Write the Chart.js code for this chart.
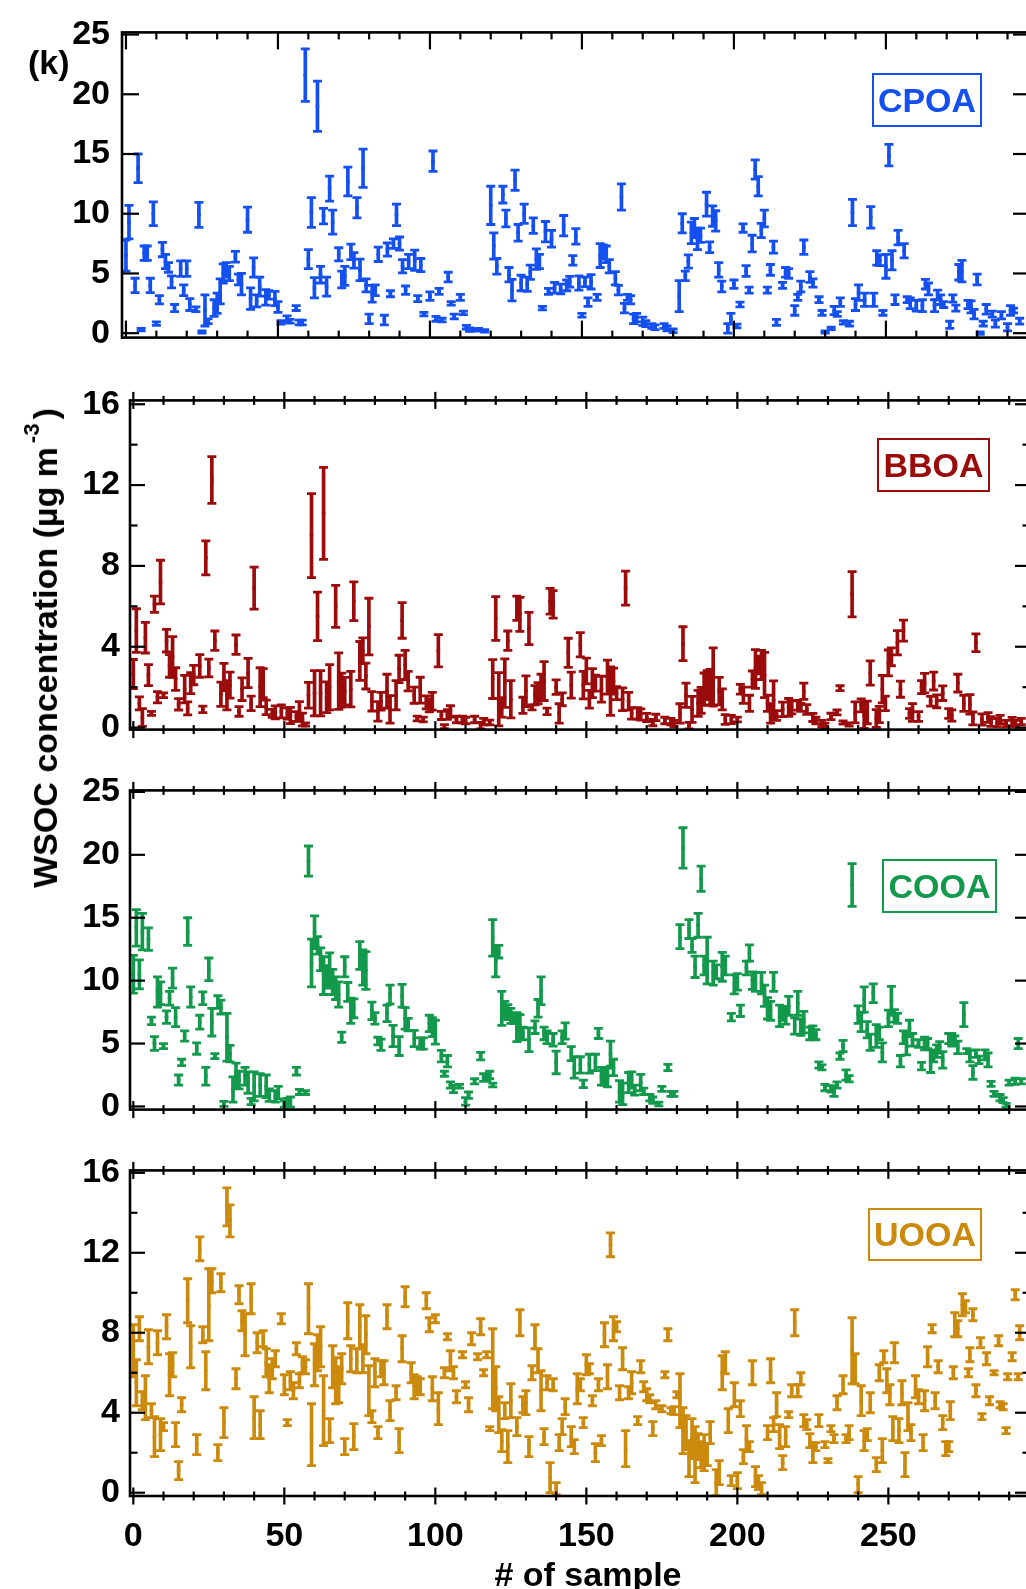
<!DOCTYPE html>
<html>
<head>
<meta charset="utf-8">
<script src="https://cdn.jsdelivr.net/npm/chart.js@4.4.1/dist/chart.umd.min.js"></script>
<style>
  html, body { margin: 0; padding: 0; background: #fff; overflow: hidden; }
  #wrap { position: relative; width: 1045px; height: 1589px; }
  #wrap canvas { position: absolute; left: 0; }
  .txt { position: absolute; font-family: "Liberation Sans", Arial, sans-serif; font-weight: bold; color: #000; white-space: nowrap; line-height: 1; }
  .box { position: absolute; box-sizing: border-box; border: 2px solid; display: flex; align-items: center; justify-content: center;
         font-family: "Liberation Sans", Arial, sans-serif; font-weight: bold; font-size: 34px; }
</style>
</head>
<body>
<div id="wrap">
  <canvas id="c1" width="1045" height="370" style="top:0px"></canvas>
  <canvas id="c2" width="1045" height="390" style="top:370px"></canvas>
  <canvas id="c3" width="1045" height="380" style="top:760px"></canvas>
  <canvas id="c4" width="1045" height="449" style="top:1140px"></canvas>

  <div class="txt" style="left:28px; top:45px; font-size:34px;">(k)</div>
  <div class="txt" style="left:45px; top:648px; font-size:34px; transform: translate(-50%, -50%) rotate(-90deg);">WSOC concentration (µg m<span style="font-size:22px; position:relative; top:-18px; margin:0 4px;">-3</span>)</div>
  <div class="txt" style="left:588px; top:1557px; font-size:34px; transform: translateX(-50%);"># of sample</div>

  <div class="box" style="left:872px; top:73px; width:110px; height:54px; color:#1450f0; border-color:#1450f0;">CPOA</div>
  <div class="box" style="left:877px; top:438px; width:113px; height:54px; color:#9b0b0b; border-color:#9b0b0b;">BBOA</div>
  <div class="box" style="left:882px; top:859px; width:115px; height:54px; color:#12994c; border-color:#12994c;">COOA</div>
  <div class="box" style="left:868px; top:1208px; width:114px; height:53px; color:#cc8a0c; border-color:#cc8a0c;">UOOA</div>
</div>

<script>
// ---- data (sample #, value, half error bar) ----
const cpoaX = [
  0,1,3,4,5,6,7,8,9,10, 11,12,13,14,15,16,18,19,20,21, 23,24,25,26,27,29,30,31,32,33,
  34,36,37,38,40,41,42,43,44,46, 47,49,50,51,53,54,56,57,58,59, 60,61,62,63,64,65,66,67,68,70,
  71,72,73,74,75,76,77,78,79,80, 81,82,83,85,86,87,88,89,90,91, 92,93,95,96,97,98,100,101,102,103,
  104,106,107,108,110,111,112,113,114,115, 116,118,120,121,122,124,125,126,127,128,
  129,130,131,132,133,134,135,136,137,138, 139,140,141,143,144,145,146,147,148,149,
  150,151,152,153,155,156,157,158,159,161, 162,163,164,165,166,167,168,170,171,173,
  174,177,178,180,182,183,184,185,186,187, 188,189,191,192,193,194,195,196,198,199,
  200,201,202,203,204,205,206,207,208,209, 210,211,212,213,214,216,217,218,220,221,
  222,223,225,226,228,229,230,232,233,234, 235,236,238,239,240,241,243,245,246,247,
  248,249,250,251,252,253,254,256,257,258, 260,262,263,264,266,267,268,269,271,272,
  273,274,275,277,278,279,280,281,282,283, 285,286,288,290,291,292,294];
const cpoaVal = [
  6.5,9.3,4.0,13.8,0.3,6.7,6.7,4.0,10.0,0.8, 2.8,7.0,6.0,5.5,4.3,2.1,5.4,3.6,5.4,2.4, 2.0,9.9,0.1,1.9,1.0,2.1,2.5,3.5,5.0,5.3,
  5.0,6.4,4.5,4.1,9.5,2.9,5.5,2.7,3.9,3.0, 3.2,2.9,2.2,0.9,1.2,1.0,2.1,0.9,0.9,21.6, 6.2,10.1,3.8,19.0,4.9,9.8,3.9,12.1,9.3,6.6,
  4.5,4.8,12.7,6.8,6.1,10.5,5.3,13.8,4.0,1.2, 3.3,3.6,6.6,1.1,7.0,3.3,7.5,9.9,7.5,5.6, 3.6,6.0,6.1,2.9,5.7,1.6,3.1,14.4,1.2,3.5,
  1.1,4.7,2.5,1.4,3.0,1.7,0.5,0.3,0.3,0.3, 0.3,0.2,10.7,7.3,5.6,11.6,9.6,4.9,3.6,12.8,
  8.4,4.2,10.0,4.1,5.1,9.0,6.2,6.0,2.1,8.5, 3.5,7.9,3.8,3.7,9.0,4.0,4.3,6.1,8.1,4.2,
  1.5,4.3,2.6,4.3,3.0,6.5,6.8,6.6,5.6,4.6, 3.6,11.4,2.1,3.0,2.8,1.2,1.3,1.0,0.8,0.6,
  0.5,0.6,0.4,0.2,3.1,9.2,4.8,6.0,8.4,8.8, 7.9,8.2,10.8,7.2,9.8,9.4,5.3,3.9,0.4,1.2,
  4.1,0.6,2.4,8.8,5.2,3.6,7.5,13.7,12.3,8.6, 9.6,3.6,5.3,7.2,0.9,4.0,5.1,5.0,1.9,3.0,
  3.9,7.2,4.7,4.2,2.8,1.7,0.1,0.4,1.9,1.6, 2.6,0.9,0.8,10.1,2.4,3.4,2.8,9.7,2.8,6.3,
  6.1,1.7,5.6,14.9,6.1,2.8,8.0,6.9,2.8,2.5, 2.3,2.3,4.1,3.7,2.3,3.2,2.8,2.4,0.7,2.9,
  2.1,5.1,5.2,2.4,2.2,1.6,4.5,0.0,0.8,2.0, 1.6,0.8,1.5,0.5,1.9,1.9,1.0];
const cpoaErr = [
  1.3,1.4,0.6,1.2,0.1,0.6,0.6,0.6,1.0,0.15, 0.35,0.6,0.6,0.4,0.5,0.3,0.65,0.45,0.65,0.5, 0.2,1.05,0.1,1.3,0.2,0.7,0.85,1.05,0.8,0.6,
  0.6,0.45,0.45,0.9,1.05,0.9,0.8,0.5,0.8,0.65, 0.35,0.6,0.45,0.15,0.25,0.15,0.2,0.2,0.2,2.2, 0.8,1.25,0.85,2.1,0.7,0.65,0.8,1.05,1.0,0.55,
  0.7,0.8,1.2,0.65,0.65,0.85,0.9,1.6,0.55,0.4, 0.7,0.45,0.6,0.4,0.55,0.25,0.4,0.9,0.55,0.55, 0.35,0.6,0.85,0.25,0.55,0.15,0.35,0.85,0.2,0.25,
  0.15,0.4,0.15,0.2,0.25,0.15,0.15,0.15,0.1,0.1, 0.1,0.1,1.6,1.1,0.65,0.7,0.7,0.6,0.9,0.85,
  0.7,0.65,0.8,0.6,0.6,0.65,0.85,0.6,0.15,0.85, 0.25,0.7,0.45,0.4,0.85,0.45,0.45,0.4,0.65,0.6,
  0.15,0.4,0.35,0.6,0.25,1.0,0.6,0.7,0.55,0.55, 0.4,1.1,0.4,0.25,0.35,0.4,0.35,0.35,0.25,0.2,
  0.2,0.2,0.2,0.15,1.3,0.8,0.4,0.55,0.9,0.8, 0.9,0.6,1.0,0.45,0.85,0.85,0.6,0.45,0.4,0.45,
  0.35,0.15,0.2,0.35,0.45,0.25,0.7,0.8,0.8,0.6, 0.7,0.25,0.45,0.5,0.25,0.25,0.4,0.4,0.4,0.25,
  0.45,0.6,0.45,0.35,0.25,0.2,0.1,0.1,0.35,0.2, 0.35,0.15,0.2,1.1,0.5,0.65,0.55,0.9,0.55,0.6,
  0.45,0.2,1.0,0.9,0.8,0.4,0.6,0.6,0.25,0.45, 0.45,0.5,0.4,0.5,0.5,0.4,0.4,0.25,0.3,0.3,
  0.25,0.65,0.9,0.35,0.5,0.4,0.45,0.1,0.2,0.4, 0.25,0.3,0.3,0.3,0.4,0.2,0.25];

const bboaX = [
  0,1,2,3,4,5,6,7,8,9, 10,11,12,13,14,15,17,18,19,20, 22,23,24,25,26,27,29,30,31,32,
  34,35,36,38,39,40,42,43,44,46, 47,49,51,52,54,55,56,57,58,59, 60,61,62,63,64,65,67,68,69,70,
  72,73,75,76,77,78,79,81,82,84, 85,87,88,89,90,91,93,94,95,96, 97,98,99,101,102,103,104,105,107,109,
  110,113,115,116,118,119,120,121,122,123, 124,125,127,128,129,130,131,132,133,134,
  135,136,137,138,139,140,141,142,144,145, 148,149,150,151,152,153,155,157,158,159,
  160,162,163,164,165,167,168,170,172,173, 176,178,179,181,182,183,184,185,187,188,
  189,190,191,192,194,195,196,198,200,201, 202,204,205,206,207,208,209,210,211,212,
  213,215,217,218,220,221,222,223,225,226, 228,229,231,233,234,235,237,238,239,241,
  242,243,244,246,247,248,249,250,251,253, 254,255,257,258,260,261,262,264,265,266,
  268,270,271,273,275,277,278,279,281,283, 284,286,287,289,291,292,294];
const bboaVal = [
  2.65,4.8,1.2,0.5,4.45,2.6,0.7,6.1,1.5,7.2, 1.6,4.3,3.05,3.5,2.4,1.15,1.9,0.95,2.2,2.6, 3.05,0.9,8.4,2.95,12.25,4.3,1.65,2.5,1.6,2.1,
  4.1,0.8,1.9,2.7,1.2,6.9,2.0,2.2,1.0,0.7, 0.75,0.8,0.7,0.6,0.55,0.8,0.4,0.15,1.6,9.5, 1.7,5.5,1.7,10.6,1.5,2.0,6.0,2.3,1.85,1.8,
  1.9,6.25,3.3,3.8,2.55,5.0,1.3,0.8,1.3,1.8, 0.9,1.6,2.9,5.3,3.1,2.3,1.6,0.45,1.85,0.4, 1.25,1.1,1.3,3.8,0.6,0.05,0.65,0.8,0.4,0.4,
  0.35,0.4,0.1,0.3,0.25,2.4,5.4,1.4,1.0,2.2, 4.3,1.4,5.9,5.6,1.1,1.8,4.9,1.0,1.6,1.7,
  2.0,2.3,0.8,6.25,6.1,2.0,0.7,1.4,3.7,2.1, 4.1,2.1,2.8,1.4,2.2,2.2,1.9,2.5,1.8,2.3,
  1.7,1.4,6.9,1.3,0.7,0.7,0.65,0.5,0.25,0.5, 0.35,0.3,0.2,0.7,4.15,1.6,0.1,0.9,1.2,1.35,
  1.9,2.1,2.0,2.5,1.8,1.4,0.4,0.4,0.4,1.9, 1.6,1.2,2.4,2.9,3.1,3.1,2.6,1.2,0.7,1.35,
  0.6,0.9,1.0,1.0,1.1,1.0,1.8,0.9,0.5,0.35, 0.2,0.1,0.55,0.75,1.95,0.25,0.15,6.6,0.75,1.1,
  0.6,0.75,2.7,0.45,0.65,1.9,1.2,3.2,3.5,4.2, 1.9,4.8,0.7,0.75,0.55,2.0,2.2,1.3,2.3,1.3,
  1.7,0.7,0.6,2.2,1.2,1.15,0.45,4.2,0.4,0.5, 0.3,0.25,0.4,0.2,0.3,0.2,0.3];
const bboaErr = [
  0.72,1.08,0.32,0.44,0.76,0.52,0.1,0.4,0.28,1.08, 0.12,0.56,0.56,1.0,0.56,0.28,0.68,0.32,0.52,0.48, 0.56,0.16,0.84,0.44,1.16,0.48,0.6,0.68,0.72,0.64,
  0.48,0.24,0.56,0.72,0.36,1.04,0.96,0.72,0.36,0.2, 0.32,0.32,0.28,0.4,0.24,0.48,0.32,0.08,0.64,2.08, 1.12,1.2,1.12,2.28,0.76,1.12,1.04,1.4,0.84,0.68,
  0.88,0.96,0.96,0.64,0.64,1.4,0.48,0.48,0.44,0.84, 0.68,0.72,0.68,0.88,0.72,0.48,0.4,0.12,0.64,0.12, 0.32,0.32,0.44,0.8,0.2,0.1,0.24,0.28,0.16,0.16,
  0.16,0.16,0.16,0.16,0.12,0.96,1.08,1.32,0.48,1.2, 0.48,0.92,0.6,0.84,0.4,0.76,0.8,0.12,0.48,0.52,
  0.64,0.96,0.16,0.64,0.68,0.36,0.48,0.32,0.72,0.64, 0.6,0.68,0.64,0.44,0.72,0.4,0.64,0.84,1.2,0.64,
  0.32,0.56,0.84,0.44,0.28,0.28,0.28,0.2,0.16,0.16, 0.16,0.16,0.16,0.48,0.84,0.6,0.16,0.64,0.64,0.64,
  0.8,0.72,0.88,1.44,0.68,0.52,0.24,0.2,0.12,0.24, 0.4,0.4,0.4,0.96,0.44,0.72,1.12,0.4,0.48,0.96,
  0.24,0.36,0.44,0.32,0.24,0.2,0.4,0.24,0.2,0.16, 0.16,0.12,0.16,0.12,0.12,0.08,0.08,1.12,0.52,0.32,
  0.64,0.56,0.6,0.44,0.4,0.68,0.36,0.64,0.44,0.6, 0.4,0.52,0.24,0.44,0.24,0.32,0.48,0.24,0.44,0.32,
  0.36,0.24,0.28,0.44,0.4,0.48,0.32,0.44,0.28,0.24, 0.24,0.2,0.2,0.16,0.2,0.16,0.16];

const cooaX = [
  0,1,2,3,5,6,7,8,9,10, 11,12,13,14,15,16,17,18,19,21, 22,23,24,25,26,27,28,29,30,31,
  32,33,34,35,37,38,39,40,42,44, 45,47,48,50,51,52,54,55,57,58, 59,60,61,62,63,64,65,66,67,68,
  69,70,71,72,73,75,76,77,79,80, 81,82,84,85,86,88,89,90,91,93, 95,96,98,99,100,102,103,104,105,106,
  108,110,111,113,115,116,117,118,119,119, 120,121,122,123,124,125,126,127,128,129,
  131,133,134,135,136,137,139,140,142,143, 145,146,148,149,151,153,154,155,156,157,
  158,159,161,162,164,165,166,168,169,171, 172,174,175,177,178,179,181,182,184,185,
  186,187,188,189,190,192,193,195,196,198, 199,200,201,203,204,205,206,208,209,210,
  211,212,214,215,216,217,219,220,221,222, 224,225,226,227,228,229,231,232,233,234,
  235,236,237,238,240,241,242,243,244,245, 246,247,248,250,251,252,253,254,255,256,
  257,258,260,261,262,263,264,265,266,267, 268,270,271,272,273,275,276,277,278,279,
  280,282,283,284,285,287,288,289,290,292, 293,294];
const cooaVal = [
  10.5,14.2,10.5,13.9,13.3,6.8,5.0,9.1,9.0,4.8, 7.1,8.6,10.2,7.1,2.1,3.5,5.6,13.9,8.7,4.6, 6.7,8.6,2.4,10.9,6.7,4.0,8.3,7.9,0.2,5.5,
  4.2,1.35,2.5,2.1,2.4,1.9,0.4,1.6,1.7,1.6, 0.9,0.8,1.1,0.2,0.4,0.35,2.8,1.15,1.1,19.5, 11.4,13.85,12.8,11.7,10.4,10.3,10.9,9.9,9.4,8.9,
  5.5,11.1,9.1,7.6,7.8,12.0,11.05,10.8,7.6,7.0, 5.2,4.9,7.4,8.9,5.6,4.8,8.8,7.0,6.5,5.4, 5.0,5.0,6.6,6.3,5.9,4.0,2.6,3.6,1.7,1.4,
  1.6,0.4,0.9,2.0,4.0,2.3,2.3,2.5,1.7,13.4, 11.55,12.3,7.8,7.7,7.5,7.2,7.0,6.3,6.4,5.8,
  5.3,6.3,7.8,9.2,5.8,5.5,5.3,3.5,5.5,6.0, 4.2,3.1,3.3,1.8,3.4,3.5,5.8,2.4,2.4,2.3,
  4.2,3.1,1.2,1.0,1.9,2.1,1.3,1.9,1.2,0.7, 0.5,0.2,1.4,3.1,1.0,1.0,13.5,20.55,14.1,12.8,
  11.1,14.4,18.1,11.2,11.6,10.6,10.7,11.1,11.2,7.1, 9.7,9.9,7.6,11.0,12.2,10.0,9.9,9.8,8.8,7.8,
  7.6,9.9,7.2,7.4,7.2,8.0,6.4,8.2,6.3,6.7, 5.8,5.9,5.7,3.3,3.1,1.5,1.4,1.2,1.7,4.0,
  4.8,2.5,2.2,17.6,7.3,6.7,8.5,6.1,5.1,9.0, 5.6,5.8,4.3,7.0,8.4,7.2,7.0,3.6,5.5,5.0,
  6.2,5.3,5.0,3.2,5.0,5.0,3.6,4.0,4.4,4.7, 3.7,5.4,5.3,5.3,4.7,7.3,4.4,4.0,2.7,4.2,
  3.7,4.1,3.7,1.8,1.0,0.7,0.5,0.1,1.9,2.0, 5.0,2.0];
const cooaErr = [
  1.5,1.45,1.15,1.45,0.9,0.3,0.55,1.2,0.9,0.2, 0.5,0.55,0.8,0.75,0.4,0.25,0.4,1.1,0.8,0.45, 0.55,0.5,0.7,0.9,1.1,0.2,0.5,0.55,0.2,1.9,
  0.65,1.0,0.95,0.7,0.7,0.85,0.25,1.15,0.9,0.9, 0.5,0.45,0.5,0.25,0.25,0.4,0.3,0.2,0.15,1.2, 1.9,1.3,0.7,0.9,1.5,0.9,1.3,1.0,0.9,1.0,
  0.4,0.8,0.75,1.0,0.75,1.1,1.4,1.5,0.7,0.45, 0.3,0.45,0.65,0.75,0.85,0.75,0.9,0.85,0.5,0.65, 0.45,0.45,0.65,0.75,0.95,0.45,0.2,0.45,0.25,0.3,
  0.15,0.3,0.25,0.2,0.3,0.3,0.25,0.3,0.15,1.45, 1.25,0.5,1.35,0.65,0.6,0.6,0.4,1.15,0.9,0.5,
  0.95,0.5,0.7,1.1,0.5,0.5,0.5,0.9,0.5,0.65, 0.55,0.85,0.65,0.3,0.75,0.65,0.4,0.7,0.7,0.75,
  1.0,0.65,0.85,0.85,0.8,0.65,0.4,0.65,0.25,0.25, 0.25,0.15,0.2,0.25,0.2,0.2,0.95,1.6,0.75,0.55,
  0.85,0.95,1.0,0.75,1.85,0.95,0.55,1.15,0.75,0.3, 0.75,0.65,0.45,0.55,0.65,0.7,0.75,0.85,0.85,0.85,
  0.75,0.75,0.85,0.55,0.65,0.75,0.65,0.95,0.65,0.85, 0.5,0.5,0.4,0.25,0.2,0.25,0.25,0.4,0.25,0.25,
  0.45,0.4,0.25,1.7,0.7,0.75,1.0,0.65,0.65,0.75, 0.9,0.5,0.75,0.65,1.15,0.5,0.4,0.45,0.5,0.9,
  0.65,0.5,0.3,0.3,0.5,0.4,0.9,0.45,0.5,0.45, 0.65,0.4,0.5,0.3,0.5,0.95,0.2,0.45,0.55,0.3,
  0.3,0.4,0.55,0.2,0.2,0.25,0.2,0.15,0.2,0.25, 0.4,0.2];

const uooaX = [
  0,1,2,3,4,5,6,7,8,9, 10,11,12,13,14,15,16,18,19,21, 22,23,24,25,26,28,29,30,31,32,
  34,35,36,37,39,40,41,42,43,44, 45,46,47,49,50,51,52,53,54,55, 56,57,58,59,60,61,62,63,65,66,
  67,68,69,70,71,72,73,74,75,76, 77,78,79,80,81,82,83,84,85,87, 88,89,90,92,93,94,95,97,98,99,
  100,101,103,104,105,106,107,109,110,111, 112,114,115,116,117,118,119,120,121,122,
  123,124,125,127,128,129,130,131,132,133, 134,135,136,137,138,139,140,141,142,143,
  145,146,147,148,149,150,151,152,153,154, 155,156,157,158,159,160,161,162,163,164,
  165,167,168,169,170,171,172,173,175,176, 177,178,179,180,181,182,183,184,185,186,
  187,188,189,190,191,193,194,195,196,197, 198,199,200,201,202,203,204,205,206,207,
  208,210,211,212,213,214,215,216,217,218, 219,220,221,222,223,224,225,226,227,229,
  230,231,232,233,235,236,237,238,239,240, 241,242,243,244,246,247,248,248.5,249.5,250.5,
  251.5,252,253.5,254.5,255.5,256.5,257.5,259,260,261.5, 262,263,264.5,265.5,266.5,268,269,270,270.5,271.5,
  272,273,274.5,275.5,276.5,277,278,279,280.5,281, 282.5,283.5,285,286.5,287,288,289,289.5,291,292,
  293,293.5];
const uooaVal = [
  7.1,5.5,8.2,4.6,4.75,7.3,4.1,2.8,7.5,2.9, 3.3,8.3,5.9,6.4,2.9,1.1,4.4,9.6,7.3,2.4, 12.2,7.9,6.1,9.4,10.6,2.0,10.5,3.5,14.3,13.6,
  5.7,9.9,8.6,7.9,9.7,3.75,7.5,3.4,7.7,6.5, 5.7,6.2,6.7,8.7,5.4,3.5,5.6,5.1,7.2,5.6, 6.4,6.3,9.2,2.9,6.4,7.0,7.3,4.1,3.1,6.3,
  5.6,5.4,6.2,2.3,8.6,6.7,2.8,6.6,8.3,6.7, 7.9,5.1,3.8,6.0,3.0,6.2,6.0,8.8,4.1,5.0, 2.6,7.2,9.8,6.0,5.3,5.4,5.3,9.6,8.4,5.2,
  8.7,4.2,6.0,7.8,6.6,6.0,4.8,6.9,5.4,4.4, 7.7,6.8,8.3,6.0,6.9,3.2,6.2,5.2,3.9,2.6,
  4.1,2.3,4.6,3.3,8.5,4.4,4.5,2.3,6.0,7.8, 6.6,5.1,2.8,5.5,0.75,5.4,0.2,2.5,3.3,4.3,
  2.8,2.3,5.2,5.4,3.5,6.4,6.2,4.6,2.0,5.4, 2.6,7.9,5.8,12.4,8.2,8.3,5.0,6.7,2.2,5.0,
  5.5,3.6,6.3,5.3,4.9,4.7,3.2,4.4,4.2,5.9, 7.9,4.1,4.1,4.9,4.6,3.1,3.0,1.7,2.7,1.9,
  2.3,1.9,2.0,1.9,3.0,0.5,1.0,6.0,6.5,3.6, 0.6,4.9,0.6,4.2,1.8,2.7,2.3,6.0,0.8,0.5,
  0.2,3.0,6.1,3.4,4.4,2.8,1.5,2.8,3.9,5.1, 8.5,5.1,5.7,3.6,3.4,2.6,2.0,2.3,3.6,2.4,
  1.6,3.2,2.7,4.5,5.4,2.7,3.0,7.1,6.2,0.4, 4.6,2.6,2.9,4.5,1.4,6.0,2.1,6.8,5.6,4.9,
  3.2,7.0,3.1,5.0,1.4,3.8,3.0,5.3,4.8,2.5, 4.6,6.8,8.2,4.6,6.3,3.5,2.2,2.3,4.1,6.0,
  8.4,8.2,9.4,9.3,6.0,6.9,8.9,5.1,7.5,3.8, 6.7,4.6,6.0,7.6,4.4,4.3,3.1,5.8,6.8,9.9,
  5.8,8.0];
const uooaErr = [
  1.3,1.15,0.6,0.45,1.1,0.85,0.35,1.0,0.6,0.8, 0.2,0.6,1.05,0.6,0.6,0.45,0.35,1.1,1.05,0.5, 0.6,0.4,0.95,1.8,0.6,0.4,0.45,0.75,0.95,0.8,
  0.5,0.45,0.5,1.05,0.75,1.05,0.5,0.7,0.4,0.7, 0.7,0.5,0.4,0.25,0.5,0.15,0.45,0.4,0.3,0.35, 0.4,0.35,1.25,1.55,1.05,0.9,1.0,1.75,0.6,1.05,
  1.15,0.9,0.75,0.4,0.9,0.65,0.65,0.6,1.1,0.7, 0.95,1.25,0.3,0.7,0.3,0.4,0.6,0.6,0.5,0.35, 0.6,0.65,0.5,0.5,0.6,0.4,0.4,0.4,0.35,0.6,
  0.2,0.8,0.25,0.15,0.5,0.3,0.3,0.15,0.15,0.35, 0.3,0.15,0.4,0.15,0.15,0.1,2.0,1.1,0.9,0.55,
  0.4,0.8,0.85,0.45,0.65,0.4,0.6,0.5,0.35,0.6, 0.6,1.0,0.4,0.35,0.75,0.3,0.3,0.4,0.4,0.4,
  0.5,0.35,0.75,0.3,0.25,0.5,0.25,0.25,0.45,0.3, 0.25,0.6,0.6,0.6,0.6,0.25,0.35,0.55,0.9,0.3,
  0.55,0.2,0.3,0.25,0.3,0.2,0.35,0.2,0.15,0.15, 0.3,0.15,0.2,0.15,1.35,1.15,0.85,0.9,1.0,1.4,
  0.65,0.65,0.9,0.55,0.55,0.65,0.6,0.85,0.55,0.6, 0.25,0.6,0.4,0.4,0.35,0.65,0.25,0.6,0.5,0.35,
  0.3,0.35,0.6,0.35,0.6,0.6,0.35,0.5,0.15,0.3, 0.65,0.3,0.3,0.3,0.25,0.35,0.5,0.2,0.3,0.15,
  0.1,0.15,0.2,0.35,0.45,0.2,0.35,1.65,0.75,0.4, 0.75,0.5,0.3,0.5,0.35,0.4,0.6,0.3,0.6,0.5,
  0.6,0.5,0.6,0.6,0.6,0.7,0.4,0.55,0.35,0.4, 0.5,0.5,0.2,0.4,0.3,0.35,0.35,0.25,0.45,0.3,
  0.6,0.4,0.55,0.3,0.2,0.35,0.3,0.3,0.25,0.15, 0.3,0.2,0.1,0.25,0.15,0.15,0.15,0.15,0.2,0.25,
  0.15,0.35];

// ---- axis ticks ----
const sampleTickLabels = [0, 50, 100, 150, 200, 250];
const ticks25 = [0, 5, 10, 15, 20, 25];
const ticks16 = [0, 4, 8, 12, 16];
const minor16 = [2, 6, 10, 14];

const FONT = '"Liberation Sans", Arial, sans-serif';
Chart.defaults.font.family = FONT;

// frame + inward / crossing tick marks, drawn with the chart's own scales
const framePlugin = {
  id: 'frame',
  afterDatasetsDraw(chart, args, o) {
    const ctx = chart.ctx, a = chart.chartArea, x = chart.scales.x, y = chart.scales.y;
    const seg = (x1, y1, x2, y2) => { ctx.beginPath(); ctx.moveTo(x1, y1); ctx.lineTo(x2, y2); ctx.stroke(); };
    ctx.save();
    ctx.strokeStyle = '#000';
    ctx.lineWidth = 2.2;
    o.yMajor.forEach(v => {
      const p = y.getPixelForValue(v);
      seg(a.left, p, a.left + o.yLen, p);
      seg(a.right, p, a.right - o.yLen, p);
    });
    o.yMinor.forEach(v => {
      const p = y.getPixelForValue(v);
      seg(a.left, p, a.left + o.yLen / 2, p);
      seg(a.right, p, a.right - o.yLen / 2, p);
    });
    for (let v = 0; v <= 290; v += 10) {
      const p = x.getPixelForValue(v);
      const len = v % 50 === 0 ? o.xMajor : o.xMinor;
      if (o.inward) {
        seg(p, a.top, p, a.top + len);
        seg(p, a.bottom, p, a.bottom - len);
      } else {
        seg(p, a.top - len / 2, p, a.top + len / 2);
        seg(p, a.bottom - len / 2, p, a.bottom + len / 2);
      }
    }
    ctx.lineWidth = 2.6;
    ctx.strokeRect(a.left, a.top, a.right - a.left, a.bottom - a.top);
    ctx.restore();
  }
};

function errorSets(xs, vals, errs, color) {
  const bars = xs.map((x, k) => ({ x: x, y: [vals[k] - errs[k], vals[k] + errs[k]] }));
  const caps = [];
  xs.forEach((x, k) => {
    caps.push({ x: x, y: vals[k] - errs[k] });
    caps.push({ x: x, y: vals[k] + errs[k] });
  });
  const mids = xs.map((x, k) => ({ x: x, y: vals[k] }));
  return [
    { type: 'bar', data: bars, backgroundColor: color, borderWidth: 0, barThickness: 3 },
    { type: 'scatter', data: caps, pointStyle: 'line', pointRadius: 4.5, borderColor: color, borderWidth: 2.8 },
    { type: 'scatter', data: mids, pointStyle: 'rect', pointRadius: 1.8, backgroundColor: color, borderColor: color, borderWidth: 1 }
  ];
}

const XLAB_H = 60;

function panel(p) {
  const canvas = document.getElementById(p.id);
  const H = canvas.height;
  const showX = !!p.showX;
  const bottomPad = H - (p.areaBot - p.top) - (showX ? XLAB_H : 0);
  new Chart(canvas, {
    type: 'bar',
    data: { datasets: errorSets(p.xs, p.vals, p.errs, p.color) },
    options: {
      responsive: false,
      animation: false,
      events: [],
      layout: { padding: { left: 0, right: 1045 - 1030, top: p.areaTop - p.top, bottom: bottomPad } },
      plugins: {
        legend: { display: false },
        tooltip: { enabled: false },
        frame: { yMajor: p.yTicks, yMinor: p.yMinor, yLen: p.yLen, xMajor: p.xMajor, xMinor: p.xMinor, inward: p.inward }
      },
      scales: {
        x: {
          type: 'linear', min: p.xmin, max: p.xmax, offset: false, display: showX,
          grid: { display: false, drawTicks: false }, border: { display: false },
          afterBuildTicks: s => { s.ticks = sampleTickLabels.map(v => ({ value: v })); },
          afterFit: s => { if (showX) s.height = XLAB_H; },
          ticks: { color: '#000', padding: 20, maxRotation: 0, autoSkip: false, font: { size: 34, weight: 'bold' } }
        },
        y: {
          type: 'linear', min: p.ymin, max: p.ymax,
          grid: { display: false, drawTicks: false }, border: { display: false },
          afterBuildTicks: s => { s.ticks = p.yTicks.map(v => ({ value: v })); },
          afterFit: s => { s.width = p.left; },
          ticks: { color: '#000', padding: p.left === 122 ? 12 : 10, autoSkip: false, font: { size: 34, weight: 'bold' } }
        }
      }
    },
    plugins: [framePlugin]
  });
}

panel({ id: 'c1', top: 0, areaTop: 26, areaBot: 348, left: 122, xmin: -1.3, xmax: 297.4, ymin: -0.37, ymax: 25.18,
        yTicks: ticks25, yMinor: [], yLen: 17, xMajor: 17, xMinor: 7, inward: true,
        xs: cpoaX, vals: cpoaVal, errs: cpoaErr, color: '#1450f0' });
panel({ id: 'c2', top: 370, areaTop: 396, areaBot: 736, left: 130, xmin: -1.1, xmax: 296.9, ymin: -0.1, ymax: 16.19,
        yTicks: ticks16, yMinor: minor16, yLen: 15, xMajor: 17, xMinor: 9, inward: false,
        xs: bboaX, vals: bboaVal, errs: bboaErr, color: '#9b0b0b' });
panel({ id: 'c3', top: 760, areaTop: 787.7, areaBot: 1119.3, left: 130, xmin: -1.1, xmax: 296.9, ymin: -0.25, ymax: 25.12,
        yTicks: ticks25, yMinor: [], yLen: 15, xMajor: 17, xMinor: 9, inward: false,
        xs: cooaX, vals: cooaVal, errs: cooaErr, color: '#12994c' });
panel({ id: 'c4', top: 1140, areaTop: 1169.3, areaBot: 1496, left: 130, xmin: -1.1, xmax: 296.9, ymin: -0.165, ymax: 16.12,
        yTicks: ticks16, yMinor: minor16, yLen: 15, xMajor: 17, xMinor: 9, inward: false, showX: true,
        xs: uooaX, vals: uooaVal, errs: uooaErr, color: '#cc8a0c' });
</script>
</body>
</html>
